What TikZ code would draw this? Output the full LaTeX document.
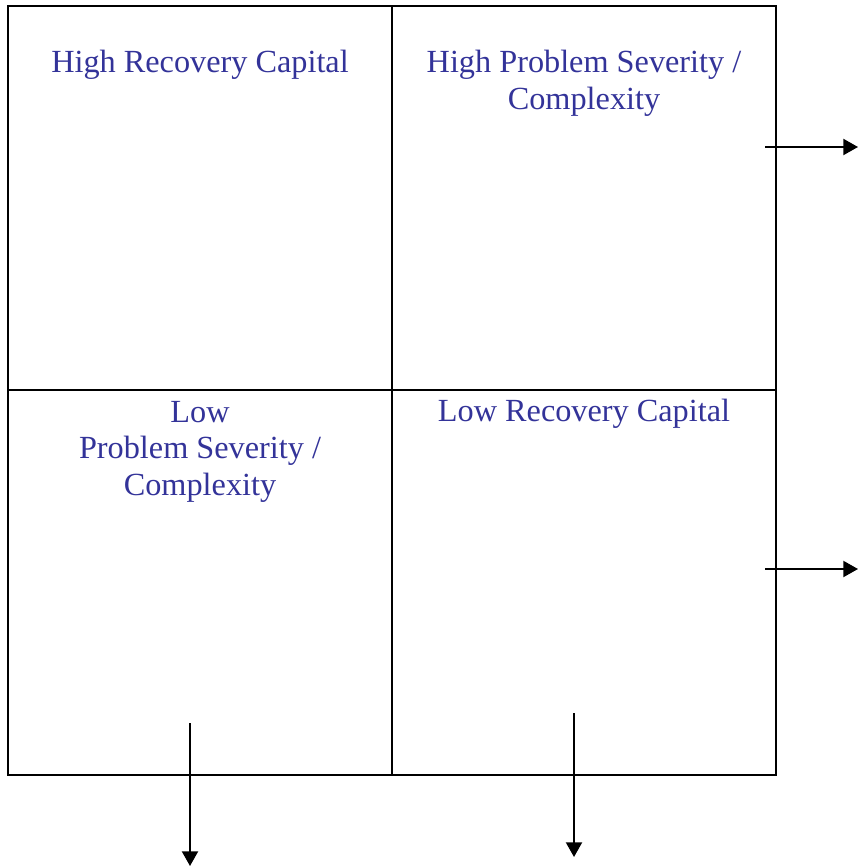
\documentclass[tikz,border=0pt]{standalone}
\usepackage{fontspec}
\setmainfont{Liberation Serif}
\usetikzlibrary{arrows.meta}
\definecolor{quadblue}{RGB}{51,51,153}
\tikzset{x=0.75pt, y=-0.75pt,
  quadtext/.style={text=quadblue, font=\fontsize{24.2}{27.3}\selectfont, align=center, anchor=base, inner sep=0pt},
  flow/.style={-{Triangle[length=11pt,width=12pt]}}}

\begin{document}
\begin{tikzpicture}[line width=1.5pt]
                \useasboundingbox (0,0) rectangle (858,867);
                % quadrants
                \draw (8,6) rectangle (776,775);
                \draw (392,6) -- (392,775);
                \draw (8,390) -- (776,390);
                \node[quadtext] (hrc) at (200,73)  {High Recovery Capital};
                \node[quadtext] (hps) at (584,109) {High Problem Severity /\\Complexity};
                \node[quadtext] (lps) at (200,495) {Low\\Problem Severity /\\Complexity};
                \node[quadtext] (lrc) at (584,421) {Low Recovery Capital};
                % arrows
                \coordinate (a1) at (765,147);
                \coordinate (b1) at (858,147);
                \coordinate (a2) at (765,569);
                \coordinate (b2) at (858,569);
                \coordinate (a3) at (190,723);
                \coordinate (b3) at (190,866);
                \coordinate (a4) at (574,713);
                \coordinate (b4) at (574,857);
                \draw[flow] (a1) -- (b1);
                \draw[flow] (a2) -- (b2);
                \draw[flow] (a3) -- (b3);
                \draw[flow] (a4) -- (b4);
              \end{tikzpicture}
\end{document}
